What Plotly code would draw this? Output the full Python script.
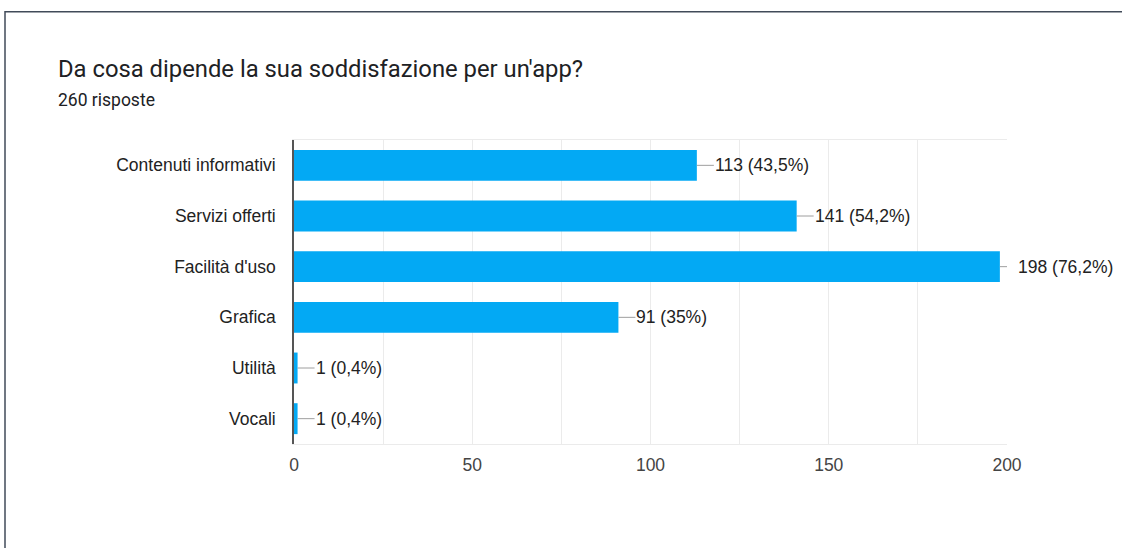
import plotly.graph_objects as go

# Survey results: "Da cosa dipende la sua soddisfazione per un'app?"
categories = [
    "Contenuti informativi",
    "Servizi offerti",
    "Facilità d'uso",
    "Grafica",
    "Utilità",
    "Vocali",
]
counts = [113, 141, 198, 91, 1, 1]
total_responses = 260
x_ticks = [0, 50, 100, 150, 200]

W, H = 1122, 548
M_L, M_R, M_T, M_B = 294, 115, 139.5, 104
PLOT_W = W - M_L - M_R
PLOT_H = H - M_T - M_B
X_MAX = 200

BAR = "#03A9F4"
TEXT = "#222222"
GRID = "#EBEBEB"
LABEL_FONT = "Liberation Sans, Arial"


def pct_label(n):
    p = round(n / total_responses * 100, 1)
    s = f"{p:.1f}".rstrip("0").rstrip(".").replace(".", ",")
    return f"{n} ({s}%)"


fig = go.Figure(
    go.Bar(
        x=counts,
        y=categories,
        orientation="h",
        marker=dict(color=BAR, line=dict(width=0)),
        width=0.61,
        hoverinfo="skip",
    )
)

# value labels joined to the bar end by a short grey leader line
LEAD = 17
px_per_unit = PLOT_W / X_MAX
annotations = []
for cat, n in zip(categories, counts):
    end_px = n * px_per_unit
    overflow = max(0, end_px + LEAD - PLOT_W)
    annotations.append(
        dict(
            x=n,
            y=cat,
            xref="x",
            yref="y",
            text=pct_label(n),
            showarrow=True,
            arrowhead=0,
            arrowwidth=1,
            arrowcolor="#9E9E9E",
            ax=LEAD,
            ay=0,
            xanchor="left",
            yanchor="middle",
            borderpad=0,
            startstandoff=overflow,
            font=dict(family=LABEL_FONT, size=17.5, color=TEXT),
        )
    )

# heading and response count
annotations.append(
    dict(
        x=(56 - M_L) / PLOT_W,
        y=(H - M_B - 68) / PLOT_H,
        xref="paper",
        yref="paper",
        text="Da cosa dipende la sua soddisfazione per un'app?",
        showarrow=False,
        xanchor="left",
        yanchor="middle",
        font=dict(family="Roboto, Arial", size=23.8, color="#202124"),
    )
)
annotations.append(
    dict(
        x=(56 - M_L) / PLOT_W,
        y=(H - M_B - 99) / PLOT_H,
        xref="paper",
        yref="paper",
        text=f"{total_responses} risposte",
        showarrow=False,
        xanchor="left",
        yanchor="middle",
        font=dict(family="Roboto, Arial", size=17.5, color="#202124"),
    )
)

# card outline
shapes = [
    dict(
        type="rect",
        xref="paper",
        yref="paper",
        x0=(5 - M_L) / PLOT_W,
        x1=(W + 20 - M_L) / PLOT_W,
        y0=(H - M_B - (H + 20)) / PLOT_H,
        y1=(H - M_B - 11) / PLOT_H,
        line=dict(color="#414B59", width=1.5),
        fillcolor="rgba(0,0,0,0)",
        layer="above",
    )
]

fig.update_layout(
    width=W,
    height=H,
    margin=dict(l=M_L, r=M_R, t=M_T, b=M_B, pad=0),
    paper_bgcolor="white",
    plot_bgcolor="white",
    showlegend=False,
    annotations=annotations,
    shapes=shapes,
    font=dict(family=LABEL_FONT, size=17, color=TEXT),
)

fig.update_xaxes(
    range=[0, X_MAX],
    tickvals=x_ticks,
    ticktext=[str(t) for t in x_ticks],
    showgrid=True,
    gridcolor=GRID,
    gridwidth=1,
    minor=dict(dtick=25, showgrid=True, gridcolor=GRID, gridwidth=1),
    showline=True,
    linecolor=GRID,
    mirror=True,
    zeroline=False,
    ticks="",
    ticklabelstandoff=5,
    tickfont=dict(family=LABEL_FONT, size=17.5, color="#444444"),
    fixedrange=True,
)
fig.update_yaxes(
    categoryorder="array",
    categoryarray=categories,
    autorange="reversed",
    showgrid=False,
    showline=True,
    linecolor="#555555",
    linewidth=1.5,
    ticks="",
    ticklabelstandoff=13,
    tickfont=dict(family=LABEL_FONT, size=17.5, color=TEXT),
    fixedrange=True,
)

fig.write_html("out.html")
